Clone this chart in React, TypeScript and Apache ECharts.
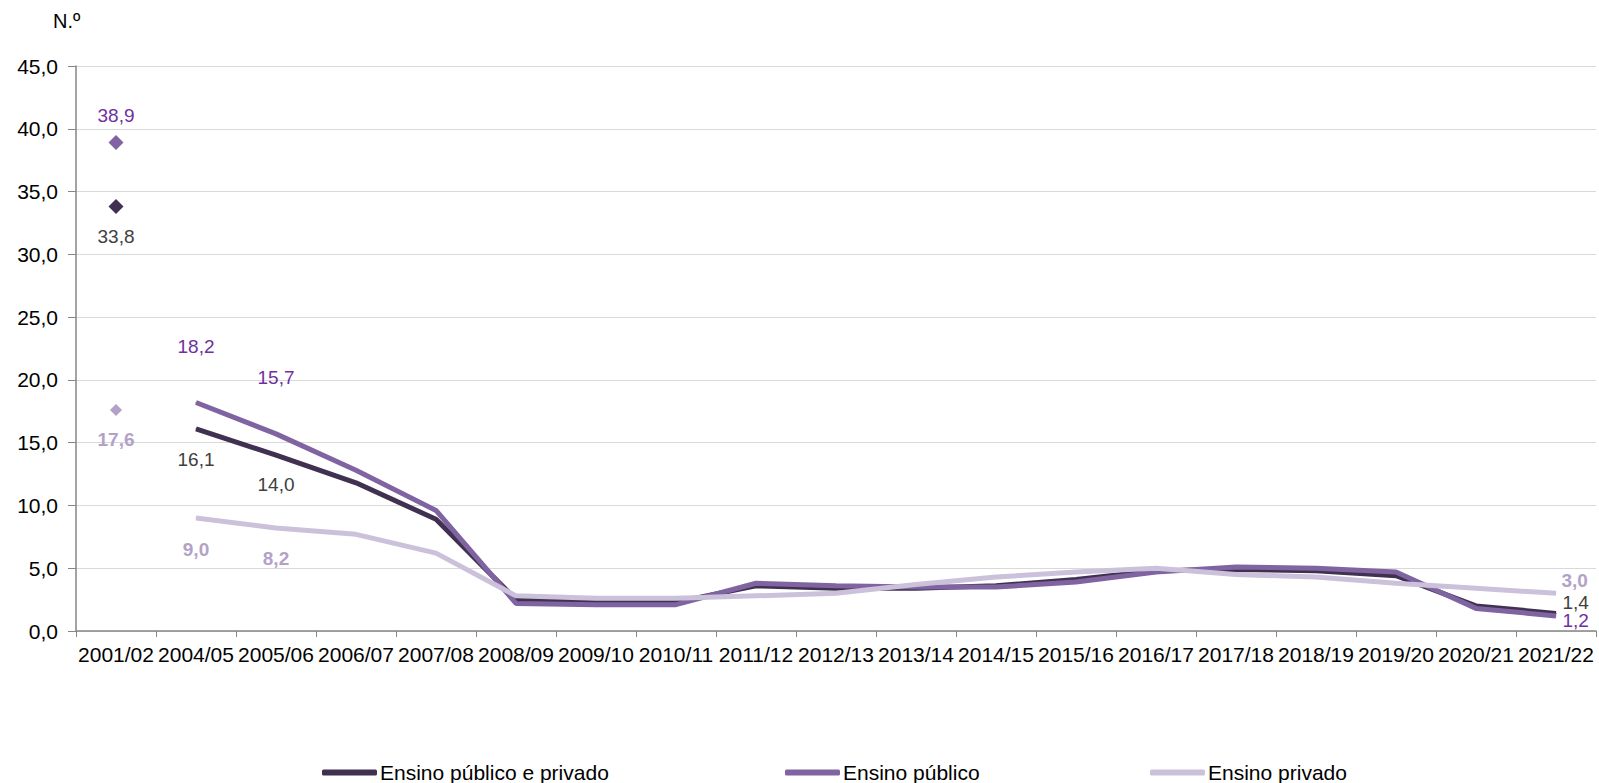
import React, { useEffect, useRef } from "react";
import * as echarts from "echarts";

const categories = [
  "2001/02", "2004/05", "2005/06", "2006/07", "2007/08", "2008/09", "2009/10",
  "2010/11", "2011/12", "2012/13", "2013/14", "2014/15", "2015/16", "2016/17",
  "2017/18", "2018/19", "2019/20", "2020/21", "2021/22",
];
const totalValues = [33.8, 16.1, 14.0, 11.8, 8.9, 2.5, 2.3, 2.3, 3.6, 3.4, 3.4, 3.6, 4.1, 4.8, 4.9, 4.8, 4.4, 2.0, 1.4];
const publicValues = [38.9, 18.2, 15.7, 12.8, 9.6, 2.2, 2.1, 2.1, 3.8, 3.6, 3.5, 3.5, 3.9, 4.7, 5.1, 5.0, 4.7, 1.8, 1.2];
const privateValues = [17.6, 9.0, 8.2, 7.7, 6.2, 2.8, 2.6, 2.6, 2.8, 3.0, 3.7, 4.3, 4.7, 5.0, 4.5, 4.3, 3.8, 3.4, 3.0];
const seriesNames = ["Ensino público e privado", "Ensino público", "Ensino privado"];
const yTicks = { min: 0, max: 45, interval: 5 };

const FONT = "Liberation Sans, Arial, sans-serif";
const fmt = (v: number) => v.toFixed(1).replace(".", ",");

// label placement per category index (styling only)
const totalLabels: Record<number, any> = {
  0: { position: "bottom", distance: 14 },
  1: { position: "bottom", distance: 22 },
  2: { position: "bottom", distance: 20 },
  18: { position: "right", distance: 6, offset: [0, -11] },
};
const publicLabels: Record<number, any> = {
  0: { position: "top", distance: 11 },
  1: { position: "top", distance: 47 },
  2: { position: "top", distance: 47 },
  18: { position: "right", distance: 6, offset: [0, 5] },
};
const privateLabels: Record<number, any> = {
  0: { position: "bottom", distance: 15 },
  1: { position: "bottom", distance: 22 },
  2: { position: "bottom", distance: 21 },
  18: { position: "right", distance: 5, offset: [0, -13] },
};

const lineColors = ["#403151", "#8064A2", "#CCC1DA"];
const markerColors = ["#403151", "#8064A2", "#B3A2C7"];
const labelColors = ["#404040", "#7030A0", "#B3A2C7"];
const labelWeights = ["normal", "normal", "bold"];
const markerSizes = [15, 15, 12];

function labelStyle(l: any, idx: number) {
  return {
    show: true,
    ...l,
    color: labelColors[idx],
    fontWeight: labelWeights[idx],
    fontSize: 19,
    lineHeight: 17,
    fontFamily: FONT,
    opacity: 1,
    formatter: (p: any) => fmt(p.value),
  };
}

function buildLineData(values: number[], labels: Record<number, any>, idx: number) {
  return values.map((v, i) => {
    if (i === 0) return null;
    const l = labels[i];
    return { value: v, label: l ? labelStyle(l, idx) : { show: false } };
  });
}

function buildMarkerData(values: number[], labels: Record<number, any>, idx: number) {
  return values.map((v, i) => {
    if (i !== 0) return null;
    return { value: v, label: labelStyle(labels[i], idx) };
  });
}

export default function App() {
  const ref = useRef<HTMLDivElement>(null);
  useEffect(() => {
    document.body.style.margin = "0";
    if (!ref.current) return;
    const chart = echarts.init(ref.current, undefined, { renderer: "svg" });
    const valueSets = [totalValues, publicValues, privateValues];
    const labelSets = [totalLabels, publicLabels, privateLabels];

    const lineSeries = valueSets.map((vals, k) => ({
      name: seriesNames[k],
      type: "line",
      data: buildLineData(vals, labelSets[k], k),
      symbol: "circle",
      symbolSize: 1,
      showSymbol: true,
      connectNulls: false,
      lineStyle: { color: lineColors[k], width: 5 },
      itemStyle: { color: lineColors[k] },
      emphasis: { disabled: true },
      z: 2 + k,
    }));
    const markerSeries = valueSets.map((vals, k) => ({
      name: seriesNames[k] + " marker",
      type: "scatter",
      data: buildMarkerData(vals, labelSets[k], k),
      symbol: "diamond",
      symbolSize: markerSizes[k],
      itemStyle: { color: markerColors[k], opacity: 1 },
      emphasis: { disabled: true },
      z: 6,
    }));

    const legendLefts = [322, 785, 1150];
    const legends = seriesNames.map((n, k) => ({
      data: [n],
      left: legendLefts[k],
      top: 762,
      padding: 0,
      icon: "roundRect",
      itemWidth: 55,
      itemHeight: 6,
      textStyle: { fontSize: 21, fontFamily: FONT, color: "#000", lineHeight: 20, padding: [0, 0, 0, -2] },
      selectedMode: false,
    }));

    chart.setOption({
      animation: false,
      backgroundColor: "#fff",
      grid: { left: 76, right: 3, top: 66, bottom: 152, containLabel: false },
      legend: legends,
      graphic: [
        {
          type: "text",
          left: 53,
          top: 11,
          style: { text: "N.º", font: `20px ${FONT}`, fill: "#000" },
        },
      ],
      xAxis: {
        type: "category",
        data: categories,
        boundaryGap: true,
        axisLine: { lineStyle: { color: "#868686", width: 1.5 } },
        axisTick: { show: true, length: 6, lineStyle: { color: "#868686" } },
        axisLabel: { interval: 0, fontSize: 21, fontFamily: FONT, color: "#000", margin: 13 },
      },
      yAxis: {
        type: "value",
        min: yTicks.min,
        max: yTicks.max,
        interval: yTicks.interval,
        axisLine: { show: true, lineStyle: { color: "#868686", width: 1.5 } },
        axisTick: { show: true, length: 8, lineStyle: { color: "#868686" } },
        splitLine: { show: true, lineStyle: { color: "#D9D9D9", width: 1 } },
        axisLabel: { fontSize: 21, fontFamily: FONT, color: "#000", margin: 18, formatter: (v: number) => fmt(v) },
      },
      series: [...lineSeries, ...markerSeries],
    });
    return () => chart.dispose();
  }, []);
  return <div ref={ref} style={{ width: 1599, height: 783 }} />;
}
